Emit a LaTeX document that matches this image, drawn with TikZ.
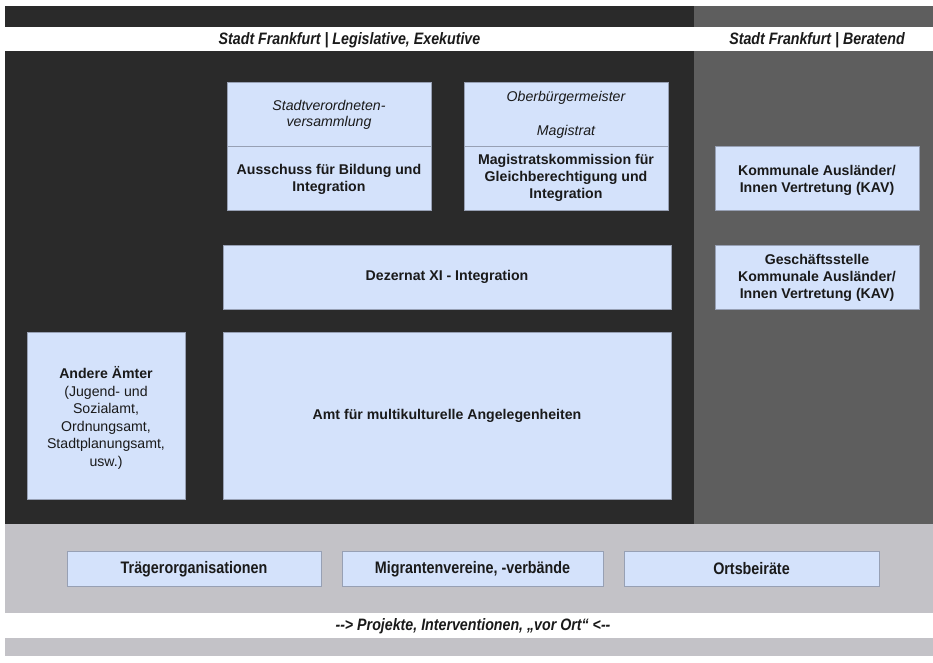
\documentclass[tikz,border=0pt]{standalone}
\usepackage{fontspec}
\setmainfont{Liberation Sans}
\usetikzlibrary{fit}
\definecolor{darkbg}{HTML}{2A2A2A}
\definecolor{midbg}{HTML}{5E5E5E}
\definecolor{lightbg}{HTML}{C3C2C7}
\definecolor{boxfill}{HTML}{D4E2FB}
\definecolor{boxline}{HTML}{97A0B4}
\definecolor{txt}{HTML}{1A1A1A}
\begin{document}
\begin{tikzpicture}[x=0.75pt,y=-0.75pt,
  box/.style={draw=boxline, fill=boxfill, line width=0.7pt, inner sep=0pt},
  bt/.style={text=txt, align=center, inner sep=0pt, font=\fontsize{10.6}{12.9}\selectfont\bfseries},
  rt/.style={text=txt, align=center, inner sep=0pt, font=\fontsize{10.6}{13.1}\selectfont},
  it/.style={text=txt, align=center, inner sep=0pt, font=\fontsize{10.6}{12.2}\selectfont\itshape},
  hdr/.style={text=txt, inner sep=0pt, font=\fontsize{12.4}{14}\selectfont\bfseries\itshape},
  cond/.style={text=txt, inner sep=0pt, font=\fontsize{12.5}{14}\selectfont\bfseries}]
\useasboundingbox (0,0) rectangle (933,662);
% backgrounds
\fill[white] (0,0) rectangle (933,662);
\fill[darkbg] (5,6) rectangle (694,524);
\fill[midbg] (694,6) rectangle (933,524);
\fill[lightbg] (5,524) rectangle (933,656);
\fill[white] (5,27) rectangle (933,51);
\fill[white] (5,613) rectangle (933,638);
% headers
\node[hdr] (hdrL) at (349.5,40) {\scalebox{0.86}[1]{Stadt Frankfurt | Legislative, Exekutive}};
\node[hdr] (hdrR) at (817,40) {\scalebox{0.86}[1]{Stadt Frankfurt | Beratend}};
% top boxes
\node[box, fit={(227,82)(431,210)}] (sv) {};
\draw[boxline, line width=0.7pt] (227,146) -- (431,146);
\node[it] (svT) at (329,115) {Stadtverordneten-\\versammlung};
\node[bt] (svB) at (329,179) {Ausschuss für Bildung und\\Integration};
\node[box, fit={(464,82)(668,210)}] (ob) {};
\draw[boxline, line width=0.7pt] (464,146) -- (668,146);
\node[it] (obT) at (566,98) {Oberbürgermeister};
\node[it] (obM) at (566,132) {Magistrat};
\node[bt] (obB) at (566,178) {Magistratskommission für\\Gleichberechtigung und\\Integration};
% Dezernat
\node[box, fit={(223,245)(671,309)}] (dez) {};
\node[bt] (dezT) at (447,277) {Dezernat XI - Integration};
% Andere Aemter
\node[box, fit={(27,332)(185,499)}] (and) {};
\node[rt] (andT) at (106,418) {\textbf{Andere Ämter}\\(Jugend- und\\Sozialamt,\\Ordnungsamt,\\Stadtplanungsamt,\\usw.)};
% Amt
\node[box, fit={(223,332)(671,499)}] (amt) {};
\node[bt] (amtT) at (447,416) {Amt für multikulturelle Angelegenheiten};
% right boxes
\node[box, fit={(715,146)(919,210)}] (kav) {};
\node[bt] (kavT) at (817,180) {Kommunale Ausländer/\\Innen Vertretung (KAV)};
\node[box, fit={(715,245)(919,309)}] (gs) {};
\node[bt] (gsT) at (817,278) {Geschäftsstelle\\Kommunale Ausländer/\\Innen Vertretung (KAV)};
% bottom boxes
\node[box, fit={(67,551)(321,586)}] (tr) {};
\node[cond] (trT) at (194,569) {\scalebox{0.86}[1]{Trägerorganisationen}};
\node[box, fit={(342,551)(603,586)}] (mv) {};
\node[cond] (mvT) at (472.5,569) {\scalebox{0.86}[1]{Migrantenvereine, -verbände}};
\node[box, fit={(624,551)(879,586)}] (ob2) {};
\node[cond] (ob2T) at (751.5,569) {\scalebox{0.86}[1]{Ortsbeiräte}};
% bottom band
\node[hdr] (foot) at (473,626) {\scalebox{0.86}[1]{-{}-> Projekte, Interventionen, „vor Ort“ <-{}-}};
\end{tikzpicture}
\end{document}
